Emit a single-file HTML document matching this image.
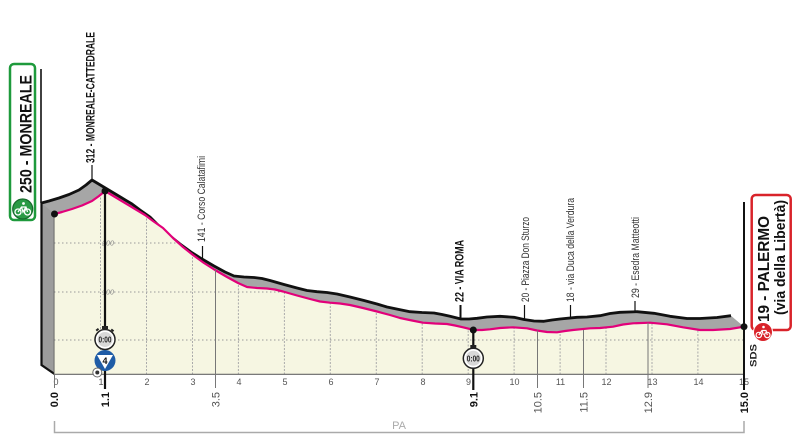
<!DOCTYPE html>
<html><head><meta charset="utf-8"><style>
html,body{margin:0;padding:0;background:#fff;}
svg{display:block;}
text{font-family:"Liberation Sans",sans-serif;}
</style></head><body>
<svg width="800" height="444" viewBox="0 0 800 444" xmlns="http://www.w3.org/2000/svg">
<defs>
<clipPath id="fc"><polygon points="54.5,214 62,212 72,209 82,205.5 92,201 99,196 105,191 115,197 125,203 135,209 145,215 153,221 163,228 173,238 183,247 193,255 204,263 215,270 227,277 238,283 247,287 257,288 267,288.5 275,289.5 283,291.5 297,295.5 310,299 320,301.5 330,302.7 340,303.5 350,305 363,308 377,311.5 390,315 400,318 412,320.5 423,322.7 435,323.5 447,324 455,325.5 463,327.3 474,330 482,330 490,329.3 500,328 513,327.3 527,328.3 537,330.5 547,332 557,332.3 565,331 573,330 590,328.3 600,328 613,326.7 623,324.5 633,323.3 650,322.7 667,324.3 683,327.3 700,330 713,330 730,329 744,326.7 744,374 54.5,374"/></clipPath>
</defs>

<!-- gray top surface (back) -->
<polygon fill="#a6a6a6" points="41.5,203 49,201 59,198 69,194.5 79,190 86,185 92,180 102,186 112,192 122,198 132,204 140,210 150,217 160,227 170,236 180,244 191,252 202,259 214,266 225,272 234,276 244,277 254,277.5 262,278.5 270,280.5 284,284.5 297,288 307,290.5 317,291.7 327,292.5 337,294 350,297 364,300.5 377,304 387,307 399,309.5 410,311.7 422,312.5 434,313 442,314.5 450,316.3 461,319 469,319 477,318.3 487,317 500,316.3 514,317.3 524,319.5 534,321 544,321.3 552,320 560,319 577,317.3 587,317 600,315.7 610,313.5 620,312.3 637,311.7 654,313.3 670,316.3 687,318.5 700,318.5 717,317.5 731,315.7 744,326.7 744,374 54.5,374 41.5,365"/>
<polyline fill="none" stroke="#111" stroke-width="2.8" stroke-linejoin="round" points="41.5,203 49,201 59,198 69,194.5 79,190 86,185 92,180 102,186 112,192 122,198 132,204 140,210 150,217 160,227 170,236 180,244 191,252 202,259 214,266 225,272 234,276 244,277 254,277.5 262,278.5 270,280.5 284,284.5 297,288 307,290.5 317,291.7 327,292.5 337,294 350,297 364,300.5 377,304 387,307 399,309.5 410,311.7 422,312.5 434,313 442,314.5 450,316.3 461,319 469,319 477,318.3 487,317 500,316.3 514,317.3 524,319.5 534,321 544,321.3 552,320 560,319 577,317.3 587,317 600,315.7 610,313.5 620,312.3 637,311.7 654,313.3 670,316.3 687,318.5 700,318.5 717,317.5 731,315.7"/>

<!-- left slab -->
<polygon fill="#9c9c9c" points="41.5,203 54.5,214 54.5,374 41.5,365"/>
<path d="M41.5,203 V365 L54.5,374" fill="none" stroke="#111" stroke-width="2.2"/>
<line x1="54.5" y1="214" x2="54.5" y2="374" stroke="#555" stroke-width="1.6"/>

<!-- front cream -->
<polygon fill="#f6f6e2" points="54.5,214 62,212 72,209 82,205.5 92,201 99,196 105,191 115,197 125,203 135,209 145,215 153,221 163,228 173,238 183,247 193,255 204,263 215,270 227,277 238,283 247,287 257,288 267,288.5 275,289.5 283,291.5 297,295.5 310,299 320,301.5 330,302.7 340,303.5 350,305 363,308 377,311.5 390,315 400,318 412,320.5 423,322.7 435,323.5 447,324 455,325.5 463,327.3 474,330 482,330 490,329.3 500,328 513,327.3 527,328.3 537,330.5 547,332 557,332.3 565,331 573,330 590,328.3 600,328 613,326.7 623,324.5 633,323.3 650,322.7 667,324.3 683,327.3 700,330 713,330 730,329 744,326.7 744,374 54.5,374"/>

<!-- grid -->
<g clip-path="url(#fc)" stroke="#9a9a9a" stroke-width="1" stroke-dasharray="1.5,2.5" fill="none">
<line x1="54" y1="243" x2="744" y2="243"/>
<line x1="54" y1="292" x2="744" y2="292"/>
<line x1="54" y1="340" x2="744" y2="340"/>
</g>
<g clip-path="url(#fc)" stroke="#aaa" stroke-width="1" stroke-dasharray="2,1.5" fill="none">
<line x1="100.5" y1="180" x2="100.5" y2="374"/>
<line x1="146.5" y1="180" x2="146.5" y2="374"/>
<line x1="192.5" y1="180" x2="192.5" y2="374"/>
<line x1="238.4" y1="180" x2="238.4" y2="374"/>
<line x1="284.4" y1="180" x2="284.4" y2="374"/>
<line x1="330.3" y1="180" x2="330.3" y2="374"/>
<line x1="376.3" y1="180" x2="376.3" y2="374"/>
<line x1="422.2" y1="180" x2="422.2" y2="374"/>
<line x1="468.2" y1="180" x2="468.2" y2="374"/>
<line x1="514.1" y1="180" x2="514.1" y2="374"/>
<line x1="560.1" y1="180" x2="560.1" y2="374"/>
<line x1="606" y1="180" x2="606" y2="374"/>
<line x1="652" y1="180" x2="652" y2="374"/>
<line x1="697.9" y1="180" x2="697.9" y2="374"/>
</g>
<text x="108" y="245.5" font-size="7" fill="#888" font-style="italic" text-anchor="middle">200</text>
<text x="108" y="294.5" font-size="7" fill="#888" font-style="italic" text-anchor="middle">100</text>

<!-- pink front edge -->
<polyline fill="none" stroke="#e2007a" stroke-width="2.2" stroke-linejoin="round" points="54.5,214 62,212 72,209 82,205.5 92,201 99,196 105,191 115,197 125,203 135,209 145,215 153,221 163,228 173,238 183,247 193,255 204,263 215,270 227,277 238,283 247,287 257,288 267,288.5 275,289.5 283,291.5 297,295.5 310,299 320,301.5 330,302.7 340,303.5 350,305 363,308 377,311.5 390,315 400,318 412,320.5 423,322.7 435,323.5 447,324 455,325.5 463,327.3 474,330 482,330 490,329.3 500,328 513,327.3 527,328.3 537,330.5 547,332 557,332.3 565,331 573,330 590,328.3 600,328 613,326.7 623,324.5 633,323.3 650,322.7 667,324.3 683,327.3 700,330 713,330 730,329 744,326.7"/>

<!-- axis -->
<line x1="54.5" y1="374.3" x2="744" y2="374.3" stroke="#666" stroke-width="1.2"/>
<g font-size="9" fill="#555" text-anchor="middle">
<text x="56" y="385">0</text><text x="101" y="385">1</text><text x="147" y="385">2</text><text x="193" y="385">3</text><text x="239" y="385">4</text><text x="285" y="385">5</text><text x="331" y="385">6</text><text x="377" y="385">7</text><text x="423" y="385">8</text><text x="468.5" y="385">9</text><text x="514.5" y="385">10</text><text x="560.5" y="385">11</text><text x="606.5" y="385">12</text><text x="652.5" y="385">13</text><text x="698.5" y="385">14</text><text x="744" y="385">15</text>
</g>

<!-- landmark thin lines -->
<g stroke="#777" stroke-width="1">
<line x1="215.5" y1="270" x2="215.5" y2="388"/>
<line x1="537.5" y1="330.5" x2="537.5" y2="388"/>
<line x1="583.5" y1="330" x2="583.5" y2="388"/>
<line x1="648" y1="322.7" x2="648" y2="388"/>
<line x1="54.5" y1="374" x2="54.5" y2="388"/>
</g>
<!-- leaders -->
<g stroke="#111" stroke-width="1.2">
<line x1="92" y1="165" x2="92" y2="181"/>
<line x1="202.5" y1="246" x2="202.5" y2="260"/>
<line x1="524.5" y1="305" x2="524.5" y2="319.5"/>
<line x1="570.5" y1="305" x2="570.5" y2="319"/>
<line x1="635" y1="301" x2="635" y2="312"/>
</g>
<line x1="460.5" y1="305" x2="460.5" y2="319" stroke="#111" stroke-width="2"/>

<!-- main black verticals -->
<line x1="41" y1="69" x2="41" y2="203" stroke="#111" stroke-width="1.6"/>
<line x1="105" y1="191" x2="105" y2="389" stroke="#111" stroke-width="2.2"/>
<line x1="473.3" y1="330" x2="473.3" y2="390" stroke="#111" stroke-width="2.2"/>
<line x1="744" y1="202" x2="744" y2="390" stroke="#111" stroke-width="2"/>

<!-- dots -->
<g fill="#111">
<circle cx="54.5" cy="214" r="3.5"/><circle cx="105" cy="191" r="3.5"/><circle cx="473.3" cy="330" r="3.5"/><circle cx="744" cy="326.7" r="3.5"/>
</g>

<!-- stopwatch 1 -->
<g>
<rect x="102" y="326" width="6" height="3" fill="#222"/>
<rect x="96" y="329" width="3" height="2" fill="#222" transform="rotate(-40 97 330)"/>
<rect x="111" y="329" width="3" height="2" fill="#222" transform="rotate(40 112 330)"/>
<circle cx="105" cy="339.5" r="10" fill="#fff" stroke="#222" stroke-width="1.5"/>
<circle cx="105" cy="339.5" r="7.5" fill="#d8d8d8"/>
<text x="105" y="342.5" font-size="8" font-weight="bold" fill="#222" text-anchor="middle" textLength="13" lengthAdjust="spacingAndGlyphs">0:00</text>
</g>
<!-- blue 4 -->
<circle cx="105" cy="360.5" r="10.5" fill="#1f5ca6"/>
<polygon points="97,355 113,355 105,369" fill="#fff"/>
<text x="105" y="364" font-size="9" font-weight="bold" fill="#111" text-anchor="middle">4</text>
<circle cx="97.3" cy="372.5" r="4.5" fill="#fff" stroke="#666" stroke-width="1"/>
<circle cx="97.3" cy="372.5" r="2" fill="#333"/>

<!-- stopwatch 2 -->
<g>
<rect x="470.3" y="345" width="6" height="3" fill="#222"/>
<circle cx="473.3" cy="358.3" r="10" fill="#fff" stroke="#222" stroke-width="1.5"/>
<circle cx="473.3" cy="358.3" r="7.5" fill="#d8d8d8"/>
<text x="473.3" y="361.3" font-size="8" font-weight="bold" fill="#222" text-anchor="middle" textLength="13" lengthAdjust="spacingAndGlyphs">0:00</text>
</g>

<!-- top labels (rotated) -->
<text transform="translate(94.6,163) rotate(-90)" font-size="12" font-weight="bold" fill="#111" textLength="131" lengthAdjust="spacingAndGlyphs">312 - MONREALE-CATTEDRALE</text>
<text transform="translate(205,242) rotate(-90)" font-size="11" fill="#333" textLength="86" lengthAdjust="spacingAndGlyphs">141 - Corso Calatafimi</text>
<text transform="translate(463.3,302) rotate(-90)" font-size="12" font-weight="bold" fill="#111" textLength="62" lengthAdjust="spacingAndGlyphs">22 - VIA ROMA</text>
<text transform="translate(529,302) rotate(-90)" font-size="11" fill="#333" textLength="85" lengthAdjust="spacingAndGlyphs">20 - Piazza Don Sturzo</text>
<text transform="translate(574,302) rotate(-90)" font-size="11" fill="#333" textLength="104" lengthAdjust="spacingAndGlyphs">18 - via Duca della Verdura</text>
<text transform="translate(639,298) rotate(-90)" font-size="11" fill="#333" textLength="81" lengthAdjust="spacingAndGlyphs">29 - Esedra Matteotti</text>

<!-- start box -->
<rect x="10" y="64" width="25" height="156" rx="4" fill="#fff" stroke="#1e9a3c" stroke-width="2.5"/>
<text transform="translate(31.4,193) rotate(-90)" font-size="17" font-weight="bold" fill="#111" textLength="118" lengthAdjust="spacingAndGlyphs">250 - MONREALE</text>
<circle cx="22.7" cy="209" r="10" fill="#2a9a45" stroke="#17692c" stroke-width="1.2"/>
<g stroke="#fff" stroke-width="1.3" fill="none">
<circle cx="18" cy="212" r="3"/><circle cx="27.5" cy="212" r="3"/>
<path d="M18,212 L21.5,207 L26,207 L27.5,212 M21.5,207 L23,212 L26,207"/>
</g>
<circle cx="23.5" cy="203.5" r="1.4" fill="#fff"/>

<!-- finish box -->
<rect x="751.7" y="195" width="39" height="135" rx="4" fill="#fff" stroke="#d9232a" stroke-width="2.5"/>
<text transform="translate(769,322) rotate(-90)" font-size="16" font-weight="bold" fill="#111" textLength="106" lengthAdjust="spacingAndGlyphs">19 - PALERMO</text>
<text transform="translate(785,315) rotate(-90)" font-size="15" font-weight="bold" fill="#111" textLength="115" lengthAdjust="spacingAndGlyphs">(via della Libertà)</text>
<circle cx="763" cy="332" r="9.5" fill="#d9232a" stroke="#fff" stroke-width="1"/>
<g stroke="#fff" stroke-width="1.2" fill="none">
<circle cx="758.8" cy="335" r="2.7"/><circle cx="767.3" cy="335" r="2.7"/>
<path d="M758.8,335 L762,330.5 L766,330.5 L767.3,335 M762,330.5 L763.3,335"/>
</g>
<circle cx="763.5" cy="327" r="1.3" fill="#fff"/>
<text transform="translate(756.5,367) rotate(-90)" font-size="9" font-weight="bold" fill="#222" textLength="23" lengthAdjust="spacingAndGlyphs">SDS</text>

<!-- distance labels -->
<g font-size="11">
<text transform="translate(58,392) rotate(-90)" text-anchor="end" font-weight="bold" fill="#111">0.0</text>
<text transform="translate(109,392) rotate(-90)" text-anchor="end" font-weight="bold" fill="#111">1.1</text>
<text transform="translate(219.5,392) rotate(-90)" text-anchor="end" fill="#555">3.5</text>
<text transform="translate(477.3,392) rotate(-90)" text-anchor="end" font-weight="bold" fill="#111">9.1</text>
<text transform="translate(541.5,392) rotate(-90)" text-anchor="end" fill="#555">10.5</text>
<text transform="translate(587.5,392) rotate(-90)" text-anchor="end" fill="#555">11.5</text>
<text transform="translate(652,392) rotate(-90)" text-anchor="end" fill="#555">12.9</text>
<text transform="translate(748,392) rotate(-90)" text-anchor="end" font-weight="bold" fill="#111">15.0</text>
</g>

<!-- bracket -->
<path d="M54.5,421 V432.5 H744 V421" fill="none" stroke="#aaa" stroke-width="1.5"/>
<text x="399" y="429" font-size="11" fill="#aaa" text-anchor="middle">PA</text>
</svg>
</body></html>
